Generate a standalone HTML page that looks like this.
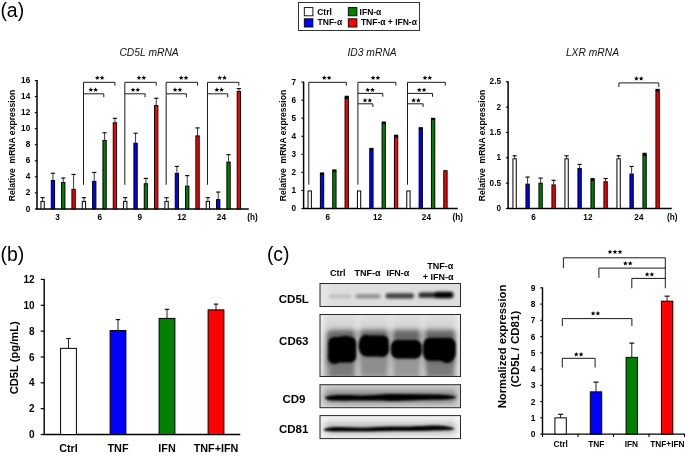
<!DOCTYPE html>
<html><head><meta charset="utf-8"><style>
html,body{margin:0;padding:0;background:#fff;}
body{width:685px;height:456px;overflow:hidden;}
svg{display:block;will-change:transform;}
text{font-family:"Liberation Sans",sans-serif;}
</style></head><body>
<svg width="685" height="456" viewBox="0 0 685 456">
<rect width="685" height="456" fill="#fff"/>
<line x1="37" y1="80.08" x2="37" y2="209.5" stroke="#000" stroke-width="1.5"/>
<line x1="34.8" y1="208.9" x2="37" y2="208.9" stroke="#000" stroke-width="1.1"/>
<text x="30.2" y="211.5" font-size="8.2" text-anchor="end" font-weight="bold" font-style="normal" fill="#000">0</text>
<line x1="34.8" y1="192.86" x2="37" y2="192.86" stroke="#000" stroke-width="1.1"/>
<text x="30.2" y="195.46" font-size="8.2" text-anchor="end" font-weight="bold" font-style="normal" fill="#000">2</text>
<line x1="34.8" y1="176.82" x2="37" y2="176.82" stroke="#000" stroke-width="1.1"/>
<text x="30.2" y="179.42" font-size="8.2" text-anchor="end" font-weight="bold" font-style="normal" fill="#000">4</text>
<line x1="34.8" y1="160.78" x2="37" y2="160.78" stroke="#000" stroke-width="1.1"/>
<text x="30.2" y="163.38" font-size="8.2" text-anchor="end" font-weight="bold" font-style="normal" fill="#000">6</text>
<line x1="34.8" y1="144.74" x2="37" y2="144.74" stroke="#000" stroke-width="1.1"/>
<text x="30.2" y="147.34" font-size="8.2" text-anchor="end" font-weight="bold" font-style="normal" fill="#000">8</text>
<line x1="34.8" y1="128.7" x2="37" y2="128.7" stroke="#000" stroke-width="1.1"/>
<text x="30.2" y="131.3" font-size="8.2" text-anchor="end" font-weight="bold" font-style="normal" fill="#000">10</text>
<line x1="34.8" y1="112.66" x2="37" y2="112.66" stroke="#000" stroke-width="1.1"/>
<text x="30.2" y="115.26" font-size="8.2" text-anchor="end" font-weight="bold" font-style="normal" fill="#000">12</text>
<line x1="34.8" y1="96.62" x2="37" y2="96.62" stroke="#000" stroke-width="1.1"/>
<text x="30.2" y="99.22" font-size="8.2" text-anchor="end" font-weight="bold" font-style="normal" fill="#000">14</text>
<line x1="34.8" y1="80.58" x2="37" y2="80.58" stroke="#000" stroke-width="1.1"/>
<text x="30.2" y="83.18" font-size="8.2" text-anchor="end" font-weight="bold" font-style="normal" fill="#000">16</text>
<line x1="36.3" y1="208.9" x2="248.8" y2="208.9" stroke="#000" stroke-width="1.5"/>
<rect x="40.95" y="201.38" width="3.3" height="7.52" fill="#ffffff" stroke="#000" stroke-width="1"/>
<line x1="42.6" y1="200.88" x2="42.6" y2="197.67" stroke="#222" stroke-width="0.9"/>
<line x1="40.5" y1="197.67" x2="44.7" y2="197.67" stroke="#000" stroke-width="1.1"/>
<rect x="51.28" y="180.53" width="3.3" height="28.37" fill="#0000ff" stroke="#000" stroke-width="1"/>
<line x1="52.93" y1="180.03" x2="52.93" y2="173.21" stroke="#222" stroke-width="0.9"/>
<line x1="50.83" y1="173.21" x2="55.03" y2="173.21" stroke="#000" stroke-width="1.1"/>
<rect x="61.61" y="182.53" width="3.3" height="26.37" fill="#008000" stroke="#000" stroke-width="1"/>
<line x1="63.26" y1="182.03" x2="63.26" y2="178.02" stroke="#222" stroke-width="0.9"/>
<line x1="61.16" y1="178.02" x2="65.36" y2="178.02" stroke="#000" stroke-width="1.1"/>
<rect x="71.94" y="189.35" width="3.3" height="19.55" fill="#ff0000" stroke="#000" stroke-width="1"/>
<line x1="73.59" y1="188.85" x2="73.59" y2="174.41" stroke="#222" stroke-width="0.9"/>
<line x1="71.49" y1="174.41" x2="75.69" y2="174.41" stroke="#000" stroke-width="1.1"/>
<rect x="82.27" y="201.38" width="3.3" height="7.52" fill="#ffffff" stroke="#000" stroke-width="1"/>
<line x1="83.92" y1="200.88" x2="83.92" y2="197.67" stroke="#222" stroke-width="0.9"/>
<line x1="81.82" y1="197.67" x2="86.02" y2="197.67" stroke="#000" stroke-width="1.1"/>
<rect x="92.6" y="181.33" width="3.3" height="27.57" fill="#0000ff" stroke="#000" stroke-width="1"/>
<line x1="94.25" y1="180.83" x2="94.25" y2="172.41" stroke="#222" stroke-width="0.9"/>
<line x1="92.15" y1="172.41" x2="96.35" y2="172.41" stroke="#000" stroke-width="1.1"/>
<rect x="102.93" y="140.43" width="3.3" height="68.47" fill="#008000" stroke="#000" stroke-width="1"/>
<line x1="104.58" y1="139.93" x2="104.58" y2="132.71" stroke="#222" stroke-width="0.9"/>
<line x1="102.48" y1="132.71" x2="106.68" y2="132.71" stroke="#000" stroke-width="1.1"/>
<rect x="113.26" y="122.78" width="3.3" height="86.12" fill="#ff0000" stroke="#000" stroke-width="1"/>
<line x1="114.91" y1="122.28" x2="114.91" y2="118.27" stroke="#222" stroke-width="0.9"/>
<line x1="112.81" y1="118.27" x2="117.01" y2="118.27" stroke="#000" stroke-width="1.1"/>
<rect x="123.59" y="201.38" width="3.3" height="7.52" fill="#ffffff" stroke="#000" stroke-width="1"/>
<line x1="125.24" y1="200.88" x2="125.24" y2="197.67" stroke="#222" stroke-width="0.9"/>
<line x1="123.14" y1="197.67" x2="127.34" y2="197.67" stroke="#000" stroke-width="1.1"/>
<rect x="133.92" y="143.15" width="3.3" height="65.75" fill="#0000ff" stroke="#000" stroke-width="1"/>
<line x1="135.57" y1="142.65" x2="135.57" y2="133.19" stroke="#222" stroke-width="0.9"/>
<line x1="133.47" y1="133.19" x2="137.67" y2="133.19" stroke="#000" stroke-width="1.1"/>
<rect x="144.25" y="183.74" width="3.3" height="25.16" fill="#008000" stroke="#000" stroke-width="1"/>
<line x1="145.9" y1="183.24" x2="145.9" y2="178.42" stroke="#222" stroke-width="0.9"/>
<line x1="143.8" y1="178.42" x2="148" y2="178.42" stroke="#000" stroke-width="1.1"/>
<rect x="154.58" y="105.54" width="3.3" height="103.36" fill="#ff0000" stroke="#000" stroke-width="1"/>
<line x1="156.23" y1="105.04" x2="156.23" y2="98.22" stroke="#222" stroke-width="0.9"/>
<line x1="154.13" y1="98.22" x2="158.33" y2="98.22" stroke="#000" stroke-width="1.1"/>
<rect x="164.91" y="201.38" width="3.3" height="7.52" fill="#ffffff" stroke="#000" stroke-width="1"/>
<line x1="166.56" y1="200.88" x2="166.56" y2="197.67" stroke="#222" stroke-width="0.9"/>
<line x1="164.46" y1="197.67" x2="168.66" y2="197.67" stroke="#000" stroke-width="1.1"/>
<rect x="175.24" y="173.39" width="3.3" height="35.51" fill="#0000ff" stroke="#000" stroke-width="1"/>
<line x1="176.89" y1="172.89" x2="176.89" y2="166.39" stroke="#222" stroke-width="0.9"/>
<line x1="174.79" y1="166.39" x2="178.99" y2="166.39" stroke="#000" stroke-width="1.1"/>
<rect x="185.57" y="186.14" width="3.3" height="22.76" fill="#008000" stroke="#000" stroke-width="1"/>
<line x1="187.22" y1="185.64" x2="187.22" y2="175.62" stroke="#222" stroke-width="0.9"/>
<line x1="185.12" y1="175.62" x2="189.32" y2="175.62" stroke="#000" stroke-width="1.1"/>
<rect x="195.9" y="135.86" width="3.3" height="73.04" fill="#ff0000" stroke="#000" stroke-width="1"/>
<line x1="197.55" y1="135.36" x2="197.55" y2="127.9" stroke="#222" stroke-width="0.9"/>
<line x1="195.45" y1="127.9" x2="199.65" y2="127.9" stroke="#000" stroke-width="1.1"/>
<rect x="206.23" y="201.38" width="3.3" height="7.52" fill="#ffffff" stroke="#000" stroke-width="1"/>
<line x1="207.88" y1="200.88" x2="207.88" y2="197.67" stroke="#222" stroke-width="0.9"/>
<line x1="205.78" y1="197.67" x2="209.98" y2="197.67" stroke="#000" stroke-width="1.1"/>
<rect x="216.56" y="199.62" width="3.3" height="9.28" fill="#0000ff" stroke="#000" stroke-width="1"/>
<line x1="218.21" y1="199.12" x2="218.21" y2="192.06" stroke="#222" stroke-width="0.9"/>
<line x1="216.11" y1="192.06" x2="220.31" y2="192.06" stroke="#000" stroke-width="1.1"/>
<rect x="226.89" y="162.08" width="3.3" height="46.82" fill="#008000" stroke="#000" stroke-width="1"/>
<line x1="228.54" y1="161.58" x2="228.54" y2="154.68" stroke="#222" stroke-width="0.9"/>
<line x1="226.44" y1="154.68" x2="230.64" y2="154.68" stroke="#000" stroke-width="1.1"/>
<rect x="237.22" y="91.51" width="3.3" height="117.39" fill="#ff0000" stroke="#000" stroke-width="1"/>
<line x1="238.87" y1="91.01" x2="238.87" y2="88.6" stroke="#222" stroke-width="0.9"/>
<line x1="236.77" y1="88.6" x2="240.97" y2="88.6" stroke="#000" stroke-width="1.1"/>
<text x="57.6" y="220.1" font-size="8.2" text-anchor="middle" font-weight="bold" font-style="normal" fill="#000">3</text>
<text x="99.9" y="220.1" font-size="8.2" text-anchor="middle" font-weight="bold" font-style="normal" fill="#000">6</text>
<text x="139.9" y="220.1" font-size="8.2" text-anchor="middle" font-weight="bold" font-style="normal" fill="#000">9</text>
<text x="181.7" y="220.1" font-size="8.2" text-anchor="middle" font-weight="bold" font-style="normal" fill="#000">12</text>
<text x="221.4" y="220.1" font-size="8.2" text-anchor="middle" font-weight="bold" font-style="normal" fill="#000">24</text>
<text x="247.3" y="220.1" font-size="8.2" text-anchor="start" font-weight="bold" font-style="normal" fill="#000">(h)</text>
<text x="149.1" y="55.6" font-size="10.3" text-anchor="middle" font-weight="normal" font-style="italic" fill="#111">CD5L mRNA</text>
<text x="15.4" y="145.5" font-size="8.6" text-anchor="middle" font-weight="bold" font-style="normal" fill="#000" transform="rotate(-90 15.4 145.5)" xml:space="preserve">Relative  mRNA expression</text>
<line x1="83.52" y1="184.8" x2="83.52" y2="82.3" stroke="#1a1a1a" stroke-width="1"/>
<polyline points="83.52,82.3 114.91,82.3 114.91,85.6" fill="none" stroke="#1a1a1a" stroke-width="1" stroke-linejoin="miter"/>
<polyline points="83.52,93.8 103.78,93.8 103.78,97.2" fill="none" stroke="#1a1a1a" stroke-width="1" stroke-linejoin="miter"/>
<polygon points="97.3,75.3 97.96,76.89 99.68,77.03 98.37,78.15 98.77,79.82 97.3,78.92 95.83,79.82 96.23,78.15 94.92,77.03 96.64,76.89" fill="#000"/>
<polygon points="102.1,75.3 102.76,76.89 104.48,77.03 103.17,78.15 103.57,79.82 102.1,78.92 100.63,79.82 101.03,78.15 99.72,77.03 101.44,76.89" fill="#000"/>
<polygon points="90.8,87.3 91.46,88.89 93.18,89.03 91.87,90.15 92.27,91.82 90.8,90.92 89.33,91.82 89.73,90.15 88.42,89.03 90.14,88.89" fill="#000"/>
<polygon points="95.6,87.3 96.26,88.89 97.98,89.03 96.67,90.15 97.07,91.82 95.6,90.92 94.13,91.82 94.53,90.15 93.22,89.03 94.94,88.89" fill="#000"/>
<line x1="124.84" y1="184.8" x2="124.84" y2="82.3" stroke="#1a1a1a" stroke-width="1"/>
<polyline points="124.84,82.3 156.23,82.3 156.23,85.6" fill="none" stroke="#1a1a1a" stroke-width="1" stroke-linejoin="miter"/>
<polyline points="124.84,93.8 145.1,93.8 145.1,97.2" fill="none" stroke="#1a1a1a" stroke-width="1" stroke-linejoin="miter"/>
<polygon points="139,75.3 139.66,76.89 141.38,77.03 140.07,78.15 140.47,79.82 139,78.92 137.53,79.82 137.93,78.15 136.62,77.03 138.34,76.89" fill="#000"/>
<polygon points="143.8,75.3 144.46,76.89 146.18,77.03 144.87,78.15 145.27,79.82 143.8,78.92 142.33,79.82 142.73,78.15 141.42,77.03 143.14,76.89" fill="#000"/>
<polygon points="133,87.3 133.66,88.89 135.38,89.03 134.07,90.15 134.47,91.82 133,90.92 131.53,91.82 131.93,90.15 130.62,89.03 132.34,88.89" fill="#000"/>
<polygon points="137.8,87.3 138.46,88.89 140.18,89.03 138.87,90.15 139.27,91.82 137.8,90.92 136.33,91.82 136.73,90.15 135.42,89.03 137.14,88.89" fill="#000"/>
<line x1="166.16" y1="184.8" x2="166.16" y2="82.3" stroke="#1a1a1a" stroke-width="1"/>
<polyline points="166.16,82.3 197.55,82.3 197.55,85.6" fill="none" stroke="#1a1a1a" stroke-width="1" stroke-linejoin="miter"/>
<polyline points="166.16,93.8 186.42,93.8 186.42,97.2" fill="none" stroke="#1a1a1a" stroke-width="1" stroke-linejoin="miter"/>
<polygon points="181.2,75.3 181.86,76.89 183.58,77.03 182.27,78.15 182.67,79.82 181.2,78.92 179.73,79.82 180.13,78.15 178.82,77.03 180.54,76.89" fill="#000"/>
<polygon points="186,75.3 186.66,76.89 188.38,77.03 187.07,78.15 187.47,79.82 186,78.92 184.53,79.82 184.93,78.15 183.62,77.03 185.34,76.89" fill="#000"/>
<polygon points="175.1,87.3 175.76,88.89 177.48,89.03 176.17,90.15 176.57,91.82 175.1,90.92 173.63,91.82 174.03,90.15 172.72,89.03 174.44,88.89" fill="#000"/>
<polygon points="179.9,87.3 180.56,88.89 182.28,89.03 180.97,90.15 181.37,91.82 179.9,90.92 178.43,91.82 178.83,90.15 177.52,89.03 179.24,88.89" fill="#000"/>
<line x1="207.48" y1="184.8" x2="207.48" y2="82.3" stroke="#1a1a1a" stroke-width="1"/>
<polyline points="207.48,82.3 238.87,82.3 238.87,85.6" fill="none" stroke="#1a1a1a" stroke-width="1" stroke-linejoin="miter"/>
<polyline points="207.48,93.8 227.74,93.8 227.74,97.2" fill="none" stroke="#1a1a1a" stroke-width="1" stroke-linejoin="miter"/>
<polygon points="219.7,75.3 220.36,76.89 222.08,77.03 220.77,78.15 221.17,79.82 219.7,78.92 218.23,79.82 218.63,78.15 217.32,77.03 219.04,76.89" fill="#000"/>
<polygon points="224.5,75.3 225.16,76.89 226.88,77.03 225.57,78.15 225.97,79.82 224.5,78.92 223.03,79.82 223.43,78.15 222.12,77.03 223.84,76.89" fill="#000"/>
<polygon points="216.8,87.3 217.46,88.89 219.18,89.03 217.87,90.15 218.27,91.82 216.8,90.92 215.33,91.82 215.73,90.15 214.42,89.03 216.14,88.89" fill="#000"/>
<polygon points="221.6,87.3 222.26,88.89 223.98,89.03 222.67,90.15 223.07,91.82 221.6,90.92 220.13,91.82 220.53,90.15 219.22,89.03 220.94,88.89" fill="#000"/>
<line x1="303.6" y1="81.65" x2="303.6" y2="209.1" stroke="#000" stroke-width="1.5"/>
<line x1="301.4" y1="208.5" x2="303.6" y2="208.5" stroke="#000" stroke-width="1.1"/>
<text x="296" y="211.1" font-size="8.2" text-anchor="end" font-weight="bold" font-style="normal" fill="#000">0</text>
<line x1="301.4" y1="190.45" x2="303.6" y2="190.45" stroke="#000" stroke-width="1.1"/>
<text x="296" y="193.05" font-size="8.2" text-anchor="end" font-weight="bold" font-style="normal" fill="#000">1</text>
<line x1="301.4" y1="172.4" x2="303.6" y2="172.4" stroke="#000" stroke-width="1.1"/>
<text x="296" y="175" font-size="8.2" text-anchor="end" font-weight="bold" font-style="normal" fill="#000">2</text>
<line x1="301.4" y1="154.35" x2="303.6" y2="154.35" stroke="#000" stroke-width="1.1"/>
<text x="296" y="156.95" font-size="8.2" text-anchor="end" font-weight="bold" font-style="normal" fill="#000">3</text>
<line x1="301.4" y1="136.3" x2="303.6" y2="136.3" stroke="#000" stroke-width="1.1"/>
<text x="296" y="138.9" font-size="8.2" text-anchor="end" font-weight="bold" font-style="normal" fill="#000">4</text>
<line x1="301.4" y1="118.25" x2="303.6" y2="118.25" stroke="#000" stroke-width="1.1"/>
<text x="296" y="120.85" font-size="8.2" text-anchor="end" font-weight="bold" font-style="normal" fill="#000">5</text>
<line x1="301.4" y1="100.2" x2="303.6" y2="100.2" stroke="#000" stroke-width="1.1"/>
<text x="296" y="102.8" font-size="8.2" text-anchor="end" font-weight="bold" font-style="normal" fill="#000">6</text>
<line x1="301.4" y1="82.15" x2="303.6" y2="82.15" stroke="#000" stroke-width="1.1"/>
<text x="296" y="84.75" font-size="8.2" text-anchor="end" font-weight="bold" font-style="normal" fill="#000">7</text>
<line x1="302.9" y1="208.5" x2="457.7" y2="208.5" stroke="#000" stroke-width="1.5"/>
<rect x="308.05" y="190.95" width="3.3" height="17.55" fill="#ffffff" stroke="#000" stroke-width="1"/>
<rect x="320.39" y="174.16" width="3.3" height="34.34" fill="#0000ff" stroke="#000" stroke-width="1"/>
<rect x="319.94" y="172.44" width="4.2" height="2.02" fill="#000"/>
<rect x="332.73" y="171.09" width="3.3" height="37.41" fill="#008000" stroke="#000" stroke-width="1"/>
<rect x="332.28" y="169.37" width="4.2" height="2.02" fill="#000"/>
<rect x="345.07" y="98.53" width="3.3" height="109.97" fill="#ff0000" stroke="#000" stroke-width="1"/>
<rect x="344.62" y="95.73" width="4.2" height="3.1" fill="#000"/>
<rect x="357.41" y="190.95" width="3.3" height="17.55" fill="#ffffff" stroke="#000" stroke-width="1"/>
<rect x="369.75" y="149.8" width="3.3" height="58.7" fill="#0000ff" stroke="#000" stroke-width="1"/>
<rect x="369.3" y="147.89" width="4.2" height="2.2" fill="#000"/>
<rect x="382.09" y="123.26" width="3.3" height="85.24" fill="#008000" stroke="#000" stroke-width="1"/>
<rect x="381.64" y="121.54" width="4.2" height="2.02" fill="#000"/>
<rect x="394.43" y="136.8" width="3.3" height="71.7" fill="#ff0000" stroke="#000" stroke-width="1"/>
<rect x="393.98" y="134.72" width="4.2" height="2.38" fill="#000"/>
<rect x="406.77" y="190.95" width="3.3" height="17.55" fill="#ffffff" stroke="#000" stroke-width="1"/>
<rect x="419.11" y="128.86" width="3.3" height="79.64" fill="#0000ff" stroke="#000" stroke-width="1"/>
<rect x="418.66" y="127.14" width="4.2" height="2.02" fill="#000"/>
<rect x="431.45" y="119.29" width="3.3" height="89.21" fill="#008000" stroke="#000" stroke-width="1"/>
<rect x="431" y="117.75" width="4.2" height="1.84" fill="#000"/>
<rect x="443.79" y="170.73" width="3.3" height="37.77" fill="#ff0000" stroke="#000" stroke-width="1"/>
<text x="327.9" y="220.1" font-size="8.2" text-anchor="middle" font-weight="bold" font-style="normal" fill="#000">6</text>
<text x="377.6" y="220.1" font-size="8.2" text-anchor="middle" font-weight="bold" font-style="normal" fill="#000">12</text>
<text x="426.4" y="220.1" font-size="8.2" text-anchor="middle" font-weight="bold" font-style="normal" fill="#000">24</text>
<text x="452.5" y="220.1" font-size="8.2" text-anchor="start" font-weight="bold" font-style="normal" fill="#000">(h)</text>
<text x="372.1" y="55.6" font-size="10.3" text-anchor="middle" font-weight="normal" font-style="italic" fill="#111">ID3 mRNA</text>
<text x="285.7" y="145.5" font-size="8.6" text-anchor="middle" font-weight="bold" font-style="normal" fill="#000" transform="rotate(-90 285.7 145.5)" xml:space="preserve">Relative  mRNA expression</text>
<line x1="308.8" y1="184.7" x2="308.8" y2="82.3" stroke="#1a1a1a" stroke-width="1"/>
<polyline points="308.8,82.3 346.4,82.3 346.4,85.6" fill="none" stroke="#1a1a1a" stroke-width="1" stroke-linejoin="miter"/>
<polygon points="324.3,75.3 324.96,76.89 326.68,77.03 325.37,78.15 325.77,79.82 324.3,78.92 322.83,79.82 323.23,78.15 321.92,77.03 323.64,76.89" fill="#000"/>
<polygon points="329.1,75.3 329.76,76.89 331.48,77.03 330.17,78.15 330.57,79.82 329.1,78.92 327.63,79.82 328.03,78.15 326.72,77.03 328.44,76.89" fill="#000"/>
<line x1="357.9" y1="184.7" x2="357.9" y2="82.3" stroke="#1a1a1a" stroke-width="1"/>
<polyline points="357.9,82.3 395.9,82.3 395.9,85.6" fill="none" stroke="#1a1a1a" stroke-width="1" stroke-linejoin="miter"/>
<polygon points="373.1,75.3 373.76,76.89 375.48,77.03 374.17,78.15 374.57,79.82 373.1,78.92 371.63,79.82 372.03,78.15 370.72,77.03 372.44,76.89" fill="#000"/>
<polygon points="377.9,75.3 378.56,76.89 380.28,77.03 378.97,78.15 379.37,79.82 377.9,78.92 376.43,79.82 376.83,78.15 375.52,77.03 377.24,76.89" fill="#000"/>
<polyline points="357.9,93.4 382.8,93.4 382.8,96.7" fill="none" stroke="#1a1a1a" stroke-width="1" stroke-linejoin="miter"/>
<polygon points="367.7,87.4 368.36,88.99 370.08,89.13 368.77,90.25 369.17,91.92 367.7,91.03 366.23,91.92 366.63,90.25 365.32,89.13 367.04,88.99" fill="#000"/>
<polygon points="372.5,87.4 373.16,88.99 374.88,89.13 373.57,90.25 373.97,91.92 372.5,91.03 371.03,91.92 371.43,90.25 370.12,89.13 371.84,88.99" fill="#000"/>
<polyline points="357.9,103.8 372.9,103.8 372.9,107" fill="none" stroke="#1a1a1a" stroke-width="1" stroke-linejoin="miter"/>
<polygon points="365,97.9 365.66,99.49 367.38,99.63 366.07,100.75 366.47,102.42 365,101.53 363.53,102.42 363.93,100.75 362.62,99.63 364.34,99.49" fill="#000"/>
<polygon points="369.8,97.9 370.46,99.49 372.18,99.63 370.87,100.75 371.27,102.42 369.8,101.53 368.33,102.42 368.73,100.75 367.42,99.63 369.14,99.49" fill="#000"/>
<line x1="407.5" y1="184.7" x2="407.5" y2="82.3" stroke="#1a1a1a" stroke-width="1"/>
<polyline points="407.5,82.3 445.3,82.3 445.3,85.6" fill="none" stroke="#1a1a1a" stroke-width="1" stroke-linejoin="miter"/>
<polygon points="425,75.3 425.66,76.89 427.38,77.03 426.07,78.15 426.47,79.82 425,78.92 423.53,79.82 423.93,78.15 422.62,77.03 424.34,76.89" fill="#000"/>
<polygon points="429.8,75.3 430.46,76.89 432.18,77.03 430.87,78.15 431.27,79.82 429.8,78.92 428.33,79.82 428.73,78.15 427.42,77.03 429.14,76.89" fill="#000"/>
<polyline points="407.5,93.4 432.5,93.4 432.5,96.7" fill="none" stroke="#1a1a1a" stroke-width="1" stroke-linejoin="miter"/>
<polygon points="419.3,87.4 419.96,88.99 421.68,89.13 420.37,90.25 420.77,91.92 419.3,91.03 417.83,91.92 418.23,90.25 416.92,89.13 418.64,88.99" fill="#000"/>
<polygon points="424.1,87.4 424.76,88.99 426.48,89.13 425.17,90.25 425.57,91.92 424.1,91.03 422.63,91.92 423.03,90.25 421.72,89.13 423.44,88.99" fill="#000"/>
<polyline points="407.5,103.8 423.1,103.8 423.1,107" fill="none" stroke="#1a1a1a" stroke-width="1" stroke-linejoin="miter"/>
<polygon points="413.6,97.9 414.26,99.49 415.98,99.63 414.67,100.75 415.07,102.42 413.6,101.53 412.13,102.42 412.53,100.75 411.22,99.63 412.94,99.49" fill="#000"/>
<polygon points="418.4,97.9 419.06,99.49 420.78,99.63 419.47,100.75 419.87,102.42 418.4,101.53 416.93,102.42 417.33,100.75 416.02,99.63 417.74,99.49" fill="#000"/>
<line x1="508.1" y1="81.25" x2="508.1" y2="209.1" stroke="#000" stroke-width="1.5"/>
<line x1="505.9" y1="208.5" x2="508.1" y2="208.5" stroke="#000" stroke-width="1.1"/>
<text x="501" y="211.1" font-size="8.2" text-anchor="end" font-weight="bold" font-style="normal" fill="#000">0</text>
<line x1="505.9" y1="183.15" x2="508.1" y2="183.15" stroke="#000" stroke-width="1.1"/>
<text x="501" y="185.75" font-size="8.2" text-anchor="end" font-weight="bold" font-style="normal" fill="#000">0.5</text>
<line x1="505.9" y1="157.8" x2="508.1" y2="157.8" stroke="#000" stroke-width="1.1"/>
<text x="501" y="160.4" font-size="8.2" text-anchor="end" font-weight="bold" font-style="normal" fill="#000">1</text>
<line x1="505.9" y1="132.45" x2="508.1" y2="132.45" stroke="#000" stroke-width="1.1"/>
<text x="501" y="135.05" font-size="8.2" text-anchor="end" font-weight="bold" font-style="normal" fill="#000">1.5</text>
<line x1="505.9" y1="107.1" x2="508.1" y2="107.1" stroke="#000" stroke-width="1.1"/>
<text x="501" y="109.7" font-size="8.2" text-anchor="end" font-weight="bold" font-style="normal" fill="#000">2</text>
<line x1="505.9" y1="81.75" x2="508.1" y2="81.75" stroke="#000" stroke-width="1.1"/>
<text x="501" y="84.35" font-size="8.2" text-anchor="end" font-weight="bold" font-style="normal" fill="#000">2.5</text>
<line x1="507.4" y1="208.5" x2="671.8" y2="208.5" stroke="#000" stroke-width="1.5"/>
<rect x="512.95" y="158.81" width="3.3" height="49.69" fill="#ffffff" stroke="#000" stroke-width="1"/>
<line x1="514.6" y1="158.31" x2="514.6" y2="155.77" stroke="#222" stroke-width="0.9"/>
<line x1="512.5" y1="155.77" x2="516.7" y2="155.77" stroke="#000" stroke-width="1.1"/>
<rect x="525.95" y="184.16" width="3.3" height="24.34" fill="#0000ff" stroke="#000" stroke-width="1"/>
<line x1="527.6" y1="183.66" x2="527.6" y2="177.07" stroke="#222" stroke-width="0.9"/>
<line x1="525.5" y1="177.07" x2="529.7" y2="177.07" stroke="#000" stroke-width="1.1"/>
<rect x="538.95" y="183.14" width="3.3" height="25.36" fill="#008000" stroke="#000" stroke-width="1"/>
<line x1="540.6" y1="182.64" x2="540.6" y2="178.08" stroke="#222" stroke-width="0.9"/>
<line x1="538.5" y1="178.08" x2="542.7" y2="178.08" stroke="#000" stroke-width="1.1"/>
<rect x="551.95" y="184.92" width="3.3" height="23.58" fill="#ff0000" stroke="#000" stroke-width="1"/>
<line x1="553.6" y1="184.42" x2="553.6" y2="180.31" stroke="#222" stroke-width="0.9"/>
<line x1="551.5" y1="180.31" x2="555.7" y2="180.31" stroke="#000" stroke-width="1.1"/>
<rect x="564.95" y="158.81" width="3.3" height="49.69" fill="#ffffff" stroke="#000" stroke-width="1"/>
<line x1="566.6" y1="158.31" x2="566.6" y2="155.77" stroke="#222" stroke-width="0.9"/>
<line x1="564.5" y1="155.77" x2="568.7" y2="155.77" stroke="#000" stroke-width="1.1"/>
<rect x="577.95" y="168.44" width="3.3" height="40.06" fill="#0000ff" stroke="#000" stroke-width="1"/>
<line x1="579.6" y1="167.94" x2="579.6" y2="164.39" stroke="#222" stroke-width="0.9"/>
<line x1="577.5" y1="164.39" x2="581.7" y2="164.39" stroke="#000" stroke-width="1.1"/>
<rect x="590.95" y="180.1" width="3.3" height="28.4" fill="#008000" stroke="#000" stroke-width="1"/>
<rect x="590.5" y="178.09" width="4.2" height="2.31" fill="#000"/>
<rect x="603.95" y="181.77" width="3.3" height="26.73" fill="#ff0000" stroke="#000" stroke-width="1"/>
<line x1="605.6" y1="181.27" x2="605.6" y2="178.59" stroke="#222" stroke-width="0.9"/>
<line x1="603.5" y1="178.59" x2="607.7" y2="178.59" stroke="#000" stroke-width="1.1"/>
<rect x="616.95" y="158.81" width="3.3" height="49.69" fill="#ffffff" stroke="#000" stroke-width="1"/>
<line x1="618.6" y1="158.31" x2="618.6" y2="155.77" stroke="#222" stroke-width="0.9"/>
<line x1="616.5" y1="155.77" x2="620.7" y2="155.77" stroke="#000" stroke-width="1.1"/>
<rect x="629.95" y="174.02" width="3.3" height="34.48" fill="#0000ff" stroke="#000" stroke-width="1"/>
<line x1="631.6" y1="173.52" x2="631.6" y2="166.42" stroke="#222" stroke-width="0.9"/>
<line x1="629.5" y1="166.42" x2="633.7" y2="166.42" stroke="#000" stroke-width="1.1"/>
<rect x="642.95" y="155.26" width="3.3" height="53.24" fill="#008000" stroke="#000" stroke-width="1"/>
<rect x="642.5" y="152.74" width="4.2" height="2.82" fill="#000"/>
<rect x="655.95" y="90.87" width="3.3" height="117.63" fill="#ff0000" stroke="#000" stroke-width="1"/>
<rect x="655.5" y="88.85" width="4.2" height="2.31" fill="#000"/>
<text x="533.6" y="220.1" font-size="8.2" text-anchor="middle" font-weight="bold" font-style="normal" fill="#000">6</text>
<text x="587.9" y="220.1" font-size="8.2" text-anchor="middle" font-weight="bold" font-style="normal" fill="#000">12</text>
<text x="638.9" y="220.1" font-size="8.2" text-anchor="middle" font-weight="bold" font-style="normal" fill="#000">24</text>
<text x="667" y="220.1" font-size="8.2" text-anchor="start" font-weight="bold" font-style="normal" fill="#000">(h)</text>
<text x="592.5" y="55.6" font-size="10.3" text-anchor="middle" font-weight="normal" font-style="italic" fill="#111">LXR mRNA</text>
<text x="484.9" y="145.5" font-size="8.6" text-anchor="middle" font-weight="bold" font-style="normal" fill="#000" transform="rotate(-90 484.9 145.5)" xml:space="preserve">Relative  mRNA expression</text>
<polyline points="618.9,87 618.9,82.9 658.8,82.9 658.8,87" fill="none" stroke="#1a1a1a" stroke-width="1" stroke-linejoin="miter"/>
<polygon points="636.4,76.1 637.06,77.69 638.78,77.83 637.47,78.95 637.87,80.62 636.4,79.72 634.93,80.62 635.33,78.95 634.02,77.83 635.74,77.69" fill="#000"/>
<polygon points="641.2,76.1 641.86,77.69 643.58,77.83 642.27,78.95 642.67,80.62 641.2,79.72 639.73,80.62 640.13,78.95 638.82,77.83 640.54,77.69" fill="#000"/>
<rect x="298.5" y="2.5" width="121" height="28" fill="none" stroke="#333" stroke-width="1"/>
<rect x="304.3" y="7.6" width="8.6" height="8.2" fill="#fff" stroke="#000" stroke-width="0.9"/>
<rect x="304.3" y="18.8" width="8.6" height="8.2" fill="#0000ff" stroke="#000" stroke-width="0.9"/>
<rect x="348.3" y="7.6" width="8.6" height="8.2" fill="#008000" stroke="#000" stroke-width="0.9"/>
<rect x="348.3" y="18.8" width="8.6" height="8.2" fill="#ff0000" stroke="#000" stroke-width="0.9"/>
<text x="317.2" y="14.7" font-size="8.5" text-anchor="start" font-weight="bold" font-style="normal" fill="#000">Ctrl</text>
<text x="317.6" y="24.9" font-size="8.5" text-anchor="start" font-weight="bold" font-style="normal" fill="#000">TNF-&#945;</text>
<text x="359.6" y="14.7" font-size="8.5" text-anchor="start" font-weight="bold" font-style="normal" fill="#000">IFN-&#945;</text>
<text x="360.9" y="24.9" font-size="8.5" text-anchor="start" font-weight="bold" font-style="normal" fill="#000">TNF-&#945; + IFN-&#945;</text>
<text x="0.4" y="17" font-size="19.4" text-anchor="start" font-weight="normal" font-style="normal" fill="#000">(a)</text>
<text x="0.5" y="261" font-size="19.4" text-anchor="start" font-weight="normal" font-style="normal" fill="#000">(b)</text>
<text x="266.9" y="261" font-size="19.4" text-anchor="start" font-weight="normal" font-style="normal" fill="#000">(c)</text>
<line x1="44.2" y1="278.96" x2="44.2" y2="435.1" stroke="#000" stroke-width="1.4"/>
<line x1="40.7" y1="434.5" x2="44.2" y2="434.5" stroke="#000" stroke-width="1.2"/>
<text x="34.5" y="438.1" font-size="10" text-anchor="end" font-weight="bold" font-style="normal" fill="#000">0</text>
<line x1="40.7" y1="408.66" x2="44.2" y2="408.66" stroke="#000" stroke-width="1.2"/>
<text x="34.5" y="412.26" font-size="10" text-anchor="end" font-weight="bold" font-style="normal" fill="#000">2</text>
<line x1="40.7" y1="382.82" x2="44.2" y2="382.82" stroke="#000" stroke-width="1.2"/>
<text x="34.5" y="386.42" font-size="10" text-anchor="end" font-weight="bold" font-style="normal" fill="#000">4</text>
<line x1="40.7" y1="356.98" x2="44.2" y2="356.98" stroke="#000" stroke-width="1.2"/>
<text x="34.5" y="360.58" font-size="10" text-anchor="end" font-weight="bold" font-style="normal" fill="#000">6</text>
<line x1="40.7" y1="331.14" x2="44.2" y2="331.14" stroke="#000" stroke-width="1.2"/>
<text x="34.5" y="334.74" font-size="10" text-anchor="end" font-weight="bold" font-style="normal" fill="#000">8</text>
<line x1="40.7" y1="305.3" x2="44.2" y2="305.3" stroke="#000" stroke-width="1.2"/>
<text x="34.5" y="308.9" font-size="10" text-anchor="end" font-weight="bold" font-style="normal" fill="#000">10</text>
<line x1="40.7" y1="279.46" x2="44.2" y2="279.46" stroke="#000" stroke-width="1.2"/>
<text x="34.5" y="283.06" font-size="10" text-anchor="end" font-weight="bold" font-style="normal" fill="#000">12</text>
<line x1="43.6" y1="434.5" x2="240.2" y2="434.5" stroke="#000" stroke-width="1.4"/>
<line x1="68.5" y1="348.38" x2="68.5" y2="338.49" stroke="#222" stroke-width="1"/>
<line x1="66.3" y1="338.49" x2="70.7" y2="338.49" stroke="#000" stroke-width="1.1"/>
<rect x="60.6" y="348.38" width="15.8" height="86.12" fill="#ffffff" stroke="#000" stroke-width="1"/>
<line x1="118" y1="330.55" x2="118" y2="319.62" stroke="#222" stroke-width="1"/>
<line x1="115.8" y1="319.62" x2="120.2" y2="319.62" stroke="#000" stroke-width="1.1"/>
<rect x="110.1" y="330.55" width="15.8" height="103.95" fill="#0000ff" stroke="#000" stroke-width="1"/>
<line x1="167" y1="318.4" x2="167" y2="309.29" stroke="#222" stroke-width="1"/>
<line x1="164.8" y1="309.29" x2="169.2" y2="309.29" stroke="#000" stroke-width="1.1"/>
<rect x="159.1" y="318.4" width="15.8" height="116.1" fill="#008000" stroke="#000" stroke-width="1"/>
<line x1="216" y1="309.88" x2="216" y2="304.12" stroke="#222" stroke-width="1"/>
<line x1="213.8" y1="304.12" x2="218.2" y2="304.12" stroke="#000" stroke-width="1.1"/>
<rect x="208.1" y="309.88" width="15.8" height="124.62" fill="#ff0000" stroke="#000" stroke-width="1"/>
<text x="68.5" y="452" font-size="10.8" text-anchor="middle" font-weight="bold" font-style="normal" fill="#000">Ctrl</text>
<text x="118" y="452" font-size="10.8" text-anchor="middle" font-weight="bold" font-style="normal" fill="#000">TNF</text>
<text x="167" y="452" font-size="10.8" text-anchor="middle" font-weight="bold" font-style="normal" fill="#000">IFN</text>
<text x="216" y="452" font-size="10.8" text-anchor="middle" font-weight="bold" font-style="normal" fill="#000">TNF+IFN</text>
<text x="17.6" y="357.8" font-size="11.2" text-anchor="middle" font-weight="bold" font-style="normal" fill="#000" transform="rotate(-90 17.6 357.8)">CD5L (pg/mL)</text>
<line x1="542.5" y1="287.35" x2="542.5" y2="434.7" stroke="#000" stroke-width="1.4"/>
<line x1="540.3" y1="434.1" x2="542.5" y2="434.1" stroke="#000" stroke-width="1.1"/>
<text x="535.4" y="437.1" font-size="8.4" text-anchor="end" font-weight="bold" font-style="normal" fill="#000">0</text>
<line x1="540.3" y1="417.85" x2="542.5" y2="417.85" stroke="#000" stroke-width="1.1"/>
<text x="535.4" y="420.85" font-size="8.4" text-anchor="end" font-weight="bold" font-style="normal" fill="#000">1</text>
<line x1="540.3" y1="401.6" x2="542.5" y2="401.6" stroke="#000" stroke-width="1.1"/>
<text x="535.4" y="404.6" font-size="8.4" text-anchor="end" font-weight="bold" font-style="normal" fill="#000">2</text>
<line x1="540.3" y1="385.35" x2="542.5" y2="385.35" stroke="#000" stroke-width="1.1"/>
<text x="535.4" y="388.35" font-size="8.4" text-anchor="end" font-weight="bold" font-style="normal" fill="#000">3</text>
<line x1="540.3" y1="369.1" x2="542.5" y2="369.1" stroke="#000" stroke-width="1.1"/>
<text x="535.4" y="372.1" font-size="8.4" text-anchor="end" font-weight="bold" font-style="normal" fill="#000">4</text>
<line x1="540.3" y1="352.85" x2="542.5" y2="352.85" stroke="#000" stroke-width="1.1"/>
<text x="535.4" y="355.85" font-size="8.4" text-anchor="end" font-weight="bold" font-style="normal" fill="#000">5</text>
<line x1="540.3" y1="336.6" x2="542.5" y2="336.6" stroke="#000" stroke-width="1.1"/>
<text x="535.4" y="339.6" font-size="8.4" text-anchor="end" font-weight="bold" font-style="normal" fill="#000">6</text>
<line x1="540.3" y1="320.35" x2="542.5" y2="320.35" stroke="#000" stroke-width="1.1"/>
<text x="535.4" y="323.35" font-size="8.4" text-anchor="end" font-weight="bold" font-style="normal" fill="#000">7</text>
<line x1="540.3" y1="304.1" x2="542.5" y2="304.1" stroke="#000" stroke-width="1.1"/>
<text x="535.4" y="307.1" font-size="8.4" text-anchor="end" font-weight="bold" font-style="normal" fill="#000">8</text>
<line x1="540.3" y1="287.85" x2="542.5" y2="287.85" stroke="#000" stroke-width="1.1"/>
<text x="535.4" y="290.85" font-size="8.4" text-anchor="end" font-weight="bold" font-style="normal" fill="#000">9</text>
<line x1="541.9" y1="434.1" x2="685" y2="434.1" stroke="#000" stroke-width="1.4"/>
<line x1="542.5" y1="434.1" x2="542.5" y2="436.9" stroke="#000" stroke-width="1.1"/>
<line x1="578" y1="434.1" x2="578" y2="436.9" stroke="#000" stroke-width="1.1"/>
<line x1="613.5" y1="434.1" x2="613.5" y2="436.9" stroke="#000" stroke-width="1.1"/>
<line x1="649" y1="434.1" x2="649" y2="436.9" stroke="#000" stroke-width="1.1"/>
<line x1="684.5" y1="434.1" x2="684.5" y2="436.9" stroke="#000" stroke-width="1.1"/>
<line x1="560.6" y1="417.85" x2="560.6" y2="414.28" stroke="#222" stroke-width="1"/>
<line x1="558.1" y1="414.28" x2="563.1" y2="414.28" stroke="#000" stroke-width="1.1"/>
<rect x="554.9" y="417.85" width="11.4" height="16.25" fill="#ffffff" stroke="#000" stroke-width="1"/>
<line x1="596" y1="391.85" x2="596" y2="382.1" stroke="#222" stroke-width="1"/>
<line x1="593.5" y1="382.1" x2="598.5" y2="382.1" stroke="#000" stroke-width="1.1"/>
<rect x="590.3" y="391.85" width="11.4" height="42.25" fill="#0000ff" stroke="#000" stroke-width="1"/>
<line x1="631.8" y1="357.4" x2="631.8" y2="343.1" stroke="#222" stroke-width="1"/>
<line x1="629.3" y1="343.1" x2="634.3" y2="343.1" stroke="#000" stroke-width="1.1"/>
<rect x="626.1" y="357.4" width="11.4" height="76.7" fill="#008000" stroke="#000" stroke-width="1"/>
<line x1="667.1" y1="301.18" x2="667.1" y2="296.14" stroke="#222" stroke-width="1"/>
<line x1="664.6" y1="296.14" x2="669.6" y2="296.14" stroke="#000" stroke-width="1.1"/>
<rect x="661.4" y="301.18" width="11.4" height="132.92" fill="#ff0000" stroke="#000" stroke-width="1"/>
<text x="560.7" y="447" font-size="8.3" text-anchor="middle" font-weight="bold" font-style="normal" fill="#000">Ctrl</text>
<text x="596.3" y="447" font-size="8.3" text-anchor="middle" font-weight="bold" font-style="normal" fill="#000">TNF</text>
<text x="631.4" y="447" font-size="8.3" text-anchor="middle" font-weight="bold" font-style="normal" fill="#000">IFN</text>
<text x="667.4" y="447" font-size="8.3" text-anchor="middle" font-weight="bold" font-style="normal" fill="#000">TNF+IFN</text>
<text x="505.6" y="346.5" font-size="11.3" text-anchor="middle" font-weight="bold" font-style="normal" fill="#000" transform="rotate(-90 505.6 346.5)">Normalized expression</text>
<text x="518.6" y="349" font-size="11.5" text-anchor="middle" font-weight="bold" font-style="normal" fill="#000" transform="rotate(-90 518.6 349)">(CD5L / CD81)</text>
<polyline points="562.3,367.5 562.3,358.3 595.1,358.3 595.1,367.5" fill="none" stroke="#1a1a1a" stroke-width="1" stroke-linejoin="miter"/>
<polygon points="576.3,352 576.96,353.59 578.68,353.73 577.37,354.85 577.77,356.52 576.3,355.62 574.83,356.52 575.23,354.85 573.92,353.73 575.64,353.59" fill="#000"/>
<polygon points="581.1,352 581.76,353.59 583.48,353.73 582.17,354.85 582.57,356.52 581.1,355.62 579.63,356.52 580.03,354.85 578.72,353.73 580.44,353.59" fill="#000"/>
<polyline points="562.3,326.1 562.3,318.6 631.9,318.6 631.9,326.1" fill="none" stroke="#1a1a1a" stroke-width="1" stroke-linejoin="miter"/>
<polygon points="593.1,311 593.76,312.59 595.48,312.73 594.17,313.85 594.57,315.52 593.1,314.62 591.63,315.52 592.03,313.85 590.72,312.73 592.44,312.59" fill="#000"/>
<polygon points="597.9,311 598.56,312.59 600.28,312.73 598.97,313.85 599.37,315.52 597.9,314.62 596.43,315.52 596.83,313.85 595.52,312.73 597.24,312.59" fill="#000"/>
<polyline points="563.4,268.2 563.4,257.8 665.3,257.8 665.3,288.3" fill="none" stroke="#1a1a1a" stroke-width="1" stroke-linejoin="miter"/>
<polygon points="610,249.5 610.66,251.09 612.38,251.23 611.07,252.35 611.47,254.02 610,253.12 608.53,254.02 608.93,252.35 607.62,251.23 609.34,251.09" fill="#000"/>
<polygon points="615,249.5 615.66,251.09 617.38,251.23 616.07,252.35 616.47,254.02 615,253.12 613.53,254.02 613.93,252.35 612.62,251.23 614.34,251.09" fill="#000"/>
<polygon points="620,249.5 620.66,251.09 622.38,251.23 621.07,252.35 621.47,254.02 620,253.12 618.53,254.02 618.93,252.35 617.62,251.23 619.34,251.09" fill="#000"/>
<polyline points="598.9,277.8 598.9,268.1 665.3,268.1" fill="none" stroke="#1a1a1a" stroke-width="1" stroke-linejoin="miter"/>
<polygon points="625.4,261 626.06,262.59 627.78,262.73 626.47,263.85 626.87,265.52 625.4,264.62 623.93,265.52 624.33,263.85 623.02,262.73 624.74,262.59" fill="#000"/>
<polygon points="630.2,261 630.86,262.59 632.58,262.73 631.27,263.85 631.67,265.52 630.2,264.62 628.73,265.52 629.13,263.85 627.82,262.73 629.54,262.59" fill="#000"/>
<polyline points="631.8,288.3 631.8,278.4 665.3,278.4" fill="none" stroke="#1a1a1a" stroke-width="1" stroke-linejoin="miter"/>
<polygon points="647.1,272 647.76,273.59 649.48,273.73 648.17,274.85 648.57,276.52 647.1,275.62 645.63,276.52 646.03,274.85 644.72,273.73 646.44,273.59" fill="#000"/>
<polygon points="651.9,272 652.56,273.59 654.28,273.73 652.97,274.85 653.37,276.52 651.9,275.62 650.43,276.52 650.83,274.85 649.52,273.73 651.24,273.59" fill="#000"/>

<defs>
<filter id="b05" x="-50%" y="-50%" width="200%" height="200%"><feGaussianBlur stdDeviation="0.6"/></filter>
<filter id="b15" x="-50%" y="-50%" width="200%" height="200%"><feGaussianBlur stdDeviation="1.5"/></filter>
<filter id="b1" x="-50%" y="-50%" width="200%" height="200%"><feGaussianBlur stdDeviation="1.3"/></filter>
<filter id="b2" x="-50%" y="-50%" width="200%" height="200%"><feGaussianBlur stdDeviation="2.5"/></filter>
<filter id="b4" x="-50%" y="-50%" width="200%" height="200%"><feGaussianBlur stdDeviation="4"/></filter>
<clipPath id="k1"><rect x="320" y="283.5" width="140.5" height="23"/></clipPath>
<clipPath id="k2"><rect x="320" y="314.5" width="140.5" height="62"/></clipPath>
<clipPath id="k3"><rect x="320" y="384.7" width="140.5" height="23"/></clipPath>
<clipPath id="k4"><rect x="320" y="415.6" width="140.5" height="23"/></clipPath>
<linearGradient id="g9" x1="0" y1="0" x2="0" y2="1">
<stop offset="0" stop-color="#cdcdcd"/><stop offset="0.5" stop-color="#a8a8a8"/><stop offset="1" stop-color="#d2d2d2"/>
</linearGradient>
<linearGradient id="g63" x1="0" y1="0" x2="0" y2="1">
<stop offset="0" stop-color="#e0e0e0"/><stop offset="0.3" stop-color="#cccccc"/><stop offset="0.7" stop-color="#a4a4a4"/><stop offset="1" stop-color="#acacac"/>
</linearGradient>
</defs>

<g clip-path="url(#k1)"><rect x="320" y="283.5" width="140.5" height="23" fill="#dedede"/>
<rect x="320" y="283.5" width="8" height="23" fill="#e6e6e6" filter="url(#b2)"/>
<g filter="url(#b15)">
<rect x="329" y="294.8" width="22.5" height="3" rx="1.5" fill="#b8b8b8"/>
<rect x="355.5" y="294.3" width="25" height="4" rx="2" fill="#888"/>
<rect x="385.5" y="293.2" width="28.5" height="5.2" rx="2.6" fill="#3c3c3c"/>
<rect x="418.5" y="292.6" width="26" height="5.2" rx="2.6" fill="#262626"/>
<rect x="434" y="291.8" width="19.5" height="6.4" rx="3.2" fill="#000"/>
</g></g>
<rect x="320" y="283.5" width="140.5" height="23" fill="none" stroke="#2a2a2a" stroke-width="1"/>
<g clip-path="url(#k2)"><rect x="320" y="314.5" width="140.5" height="62" fill="url(#g63)"/>
<g filter="url(#b2)">
<rect x="326" y="330" width="132" height="37" rx="6" fill="#666"/>
<rect x="329" y="363" width="27" height="14" fill="#7a7a7a"/>
<rect x="360" y="356" width="28" height="20" fill="#8e8e8e"/>
<rect x="392" y="358" width="29" height="18" fill="#989898"/>
<rect x="426" y="363" width="28" height="14" fill="#7a7a7a"/>
<rect x="356.3" y="312" width="2.6" height="66" fill="#ececec"/>
<rect x="389.2" y="312" width="2.6" height="66" fill="#ececec"/>
<rect x="421.3" y="312" width="2.6" height="66" fill="#ececec"/>
<rect x="316" y="312" width="7.5" height="66" fill="#f0f0f0"/>
<rect x="456.5" y="312" width="6" height="66" fill="#eeeeee"/>
</g>
<g filter="url(#b1)" fill="#000">
<rect x="328.2" y="337" width="28" height="25.5" rx="6"/>
<ellipse cx="334.5" cy="357" rx="6.5" ry="7"/>
<ellipse cx="345" cy="340" rx="10" ry="4"/>
<ellipse cx="366" cy="345.5" rx="7.5" ry="10.8"/>
<rect x="362" y="335.5" width="26.8" height="21" rx="6"/>
<ellipse cx="382" cy="349" rx="6.8" ry="8"/>
<rect x="390.8" y="340" width="31" height="18.5" rx="6.5"/>
<ellipse cx="397" cy="349" rx="6" ry="9"/>
<rect x="423.2" y="337.8" width="32.5" height="23" rx="7"/>
<ellipse cx="447" cy="357" rx="7" ry="6"/>
<ellipse cx="428" cy="349.5" rx="5" ry="11"/>
</g></g>
<rect x="320" y="314.5" width="140.5" height="62" fill="none" stroke="#2a2a2a" stroke-width="1"/>
<g clip-path="url(#k3)"><rect x="320" y="384.7" width="140.5" height="23" fill="url(#g9)"/>
<rect x="316" y="382" width="8" height="28" fill="#d6d6d6" filter="url(#b2)"/>
<rect x="457" y="382" width="8" height="28" fill="#d6d6d6" filter="url(#b2)"/>
<rect x="326" y="391.5" width="130" height="11" rx="5" fill="#888" filter="url(#b2)"/>
<path d="M325,397.3 C330,394.4 345,395.0 360,395.4 C375,395.6 380,393.8 395,394.0 C410,394.2 425,394.2 440,394.6 C450,395.0 455,396.2 456.5,397.6 C452,400.0 440,399.8 425,400.0 C410,400.2 400,401.4 385,400.8 C370,400.3 350,400.8 335,400.6 C328,400.4 325,399.2 325,397.3 Z" fill="#000" filter="url(#b1)"/>
</g>
<rect x="320" y="384.7" width="140.5" height="23" fill="none" stroke="#2a2a2a" stroke-width="1"/>
<g clip-path="url(#k4)"><rect x="320" y="415.6" width="140.5" height="23" fill="#f1f1f1"/>
<rect x="324" y="421.5" width="132" height="13" rx="5" fill="#c4c4c4" filter="url(#b2)"/>
<path d="M323.5,429.6 C328,426.3 340,426.9 355,427.5 C370,427.9 380,426.1 395,426.5 C410,426.9 420,425.7 435,425.5 C445,425.5 452,427.0 455,429 C450,430.7 440,430.3 430,430.7 C415,431.1 400,430.7 385,431.3 C370,431.7 350,431.5 335,431.5 C328,431.5 324,431.0 323.5,429.6 Z" fill="#000" filter="url(#b1)"/>
</g>
<rect x="320" y="415.6" width="140.5" height="23" fill="none" stroke="#2a2a2a" stroke-width="1"/>
<text x="293.8" y="302.7" font-size="11.5" text-anchor="middle" font-weight="bold" font-style="normal" fill="#000">CD5L</text>
<text x="293.8" y="345.3" font-size="11.5" text-anchor="middle" font-weight="bold" font-style="normal" fill="#000">CD63</text>
<text x="293.9" y="402.7" font-size="11.5" text-anchor="middle" font-weight="bold" font-style="normal" fill="#000">CD9</text>
<text x="293.6" y="432.8" font-size="11.5" text-anchor="middle" font-weight="bold" font-style="normal" fill="#000">CD81</text>
<text x="337.8" y="275.8" font-size="9" text-anchor="middle" font-weight="bold" font-style="normal" fill="#000">Ctrl</text>
<text x="367.5" y="275.8" font-size="9" text-anchor="middle" font-weight="bold" font-style="normal" fill="#000">TNF-&#945;</text>
<text x="397.9" y="275.8" font-size="9" text-anchor="middle" font-weight="bold" font-style="normal" fill="#000">IFN-&#945;</text>
<text x="440.2" y="268.6" font-size="9" text-anchor="middle" font-weight="bold" font-style="normal" fill="#000">TNF-&#945;</text>
<text x="438.2" y="280.2" font-size="9" text-anchor="middle" font-weight="bold" font-style="normal" fill="#000">+ IFN-&#945;</text>
</svg>
</body></html>
